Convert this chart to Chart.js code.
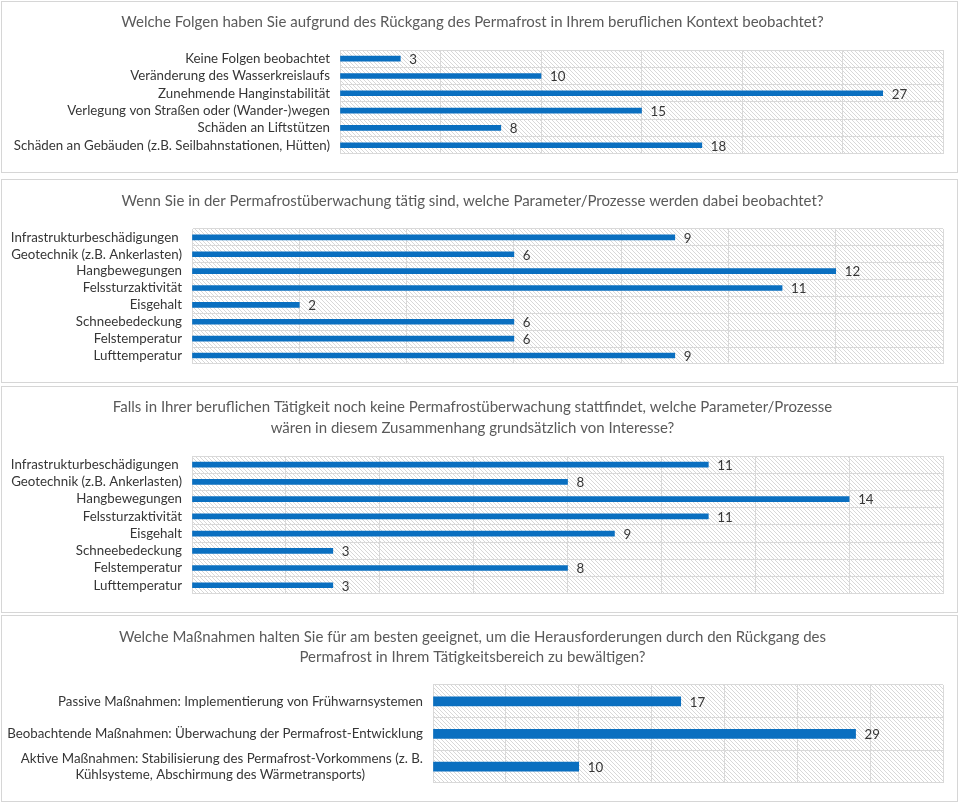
<!DOCTYPE html>
<html>
<head>
<meta charset="utf-8">
<script src="https://cdn.jsdelivr.net/npm/chart.js@4.4.1/dist/chart.umd.min.js"></script>
<style>
  body { margin: 0; background: #fff; width: 960px; height: 803px; position: relative; overflow: hidden; }
  .panel { position: absolute; left: 1px; width: 957px; box-sizing: border-box; border: 1px solid #d6d6d6; }
  .panel canvas { display: block; }
</style>
</head>
<body>
<div class="panel" style="top:1px;height:172px"><canvas id="c1"></canvas></div>
<div class="panel" style="top:179px;height:204px"><canvas id="c2"></canvas></div>
<div class="panel" style="top:386px;height:227px"><canvas id="c3"></canvas></div>
<div class="panel" style="top:615px;height:187px"><canvas id="c4"></canvas></div>
<script>
// --- data ---
const folgenTitle = 'Welche Folgen haben Sie aufgrund des Rückgang des Permafrost in Ihrem beruflichen Kontext beobachtet?'
const folgenLabels = ['Keine Folgen beobachtet', 'Veränderung des Wasserkreislaufs', 'Zunehmende Hanginstabilität',
    'Verlegung von Straßen oder (Wander-)wegen', 'Schäden an Liftstützen', 'Schäden an Gebäuden (z.B. Seilbahnstationen, Hütten)']
const folgenValues = [3, 10, 27, 15, 8, 18]

const paramLabels = ['Infrastrukturbeschädigungen ', 'Geotechnik (z.B. Ankerlasten)', 'Hangbewegungen', 'Felssturzaktivität',
    'Eisgehalt', 'Schneebedeckung', 'Felstemperatur', 'Lufttemperatur']

const ueberwachtTitle = 'Wenn Sie in der Permafrostüberwachung tätig sind, welche Parameter/Prozesse werden dabei beobachtet?'
const ueberwachtValues = [9, 6, 12, 11, 2, 6, 6, 9]

const interesseTitle = ['Falls in Ihrer beruflichen Tätigkeit noch keine Permafrostüberwachung stattfindet, welche Parameter/Prozesse',
    'wären in diesem Zusammenhang grundsätzlich von Interesse?']
const interesseValues = [11, 8, 14, 11, 9, 3, 8, 3]

const massnahmenTitle = ['Welche Maßnahmen halten Sie für am besten geeignet, um die Herausforderungen durch den Rückgang des',
    'Permafrost in Ihrem Tätigkeitsbereich zu bewältigen?']
const massnahmenLabels = ['Passive Maßnahmen: Implementierung von Frühwarnsystemen',
    'Beobachtende Maßnahmen: Überwachung der Permafrost-Entwicklung',
    ['Aktive Maßnahmen: Stabilisierung des Permafrost-Vorkommens (z. B.', 'Kühlsysteme, Abschirmung des Wärmetransports)']]
const massnahmenValues = [17, 29, 10]

const axisMax = [30, 14, 16, 35]
const axisStep = [5, 2, 2, 5]

// --- styling ---
const FONT = 'Lato'
const LABEL_SIZE = 13.3
const barColor = '#0a6fc0'
const gridColor = '#d9d9d9'
const textColor = '#363636'

function hatch() {
    const s = 4
    const c = document.createElement('canvas')
    c.width = s; c.height = s
    const g = c.getContext('2d')
    g.fillStyle = '#fff'
    g.fillRect(0, 0, s, s)
    g.strokeStyle = '#d4d4d4'
    g.lineWidth = 0.9
    for (let k = -1; k <= 1; k++) {
        g.beginPath()
        g.moveTo(k * s, 0)
        g.lineTo(k * s + s, s)
        g.stroke()
    }
    return g.createPattern(c, 'repeat')
}

// plot area background
const hatchPlugin = {
    id: 'hatchBg',
    beforeDraw(chart) {
        const a = chart.chartArea
        const ctx = chart.ctx
        ctx.save()
        ctx.fillStyle = hatch()
        ctx.fillRect(a.left, a.top, a.right - a.left, a.bottom - a.top)
        ctx.restore()
    }
}

// numbers at bar ends
const valuePlugin = {
    id: 'barValues',
    afterDatasetsDraw(chart) {
        const ctx = chart.ctx
        const meta = chart.getDatasetMeta(0)
        const vals = chart.data.datasets[0].data
        ctx.save()
        ctx.font = LABEL_SIZE + 'px ' + FONT
        ctx.fillStyle = textColor
        ctx.textAlign = 'left'
        ctx.textBaseline = 'middle'
        meta.data.forEach((bar, i) => ctx.fillText(vals[i], bar.x + 9, bar.y + 1))
        ctx.restore()
    }
}

// center the lines of a wrapped label like Excel does
function centerLines(lines, font) {
    const g = document.createElement('canvas').getContext('2d')
    g.font = font
    const w = lines.map(l => g.measureText(l).width)
    const widest = Math.max(...w)
    const sp = g.measureText(' ').width
    return lines.map((l, i) => l + ' '.repeat(Math.round((widest - w[i]) / 2 / sp)))
}

function makeChart(id, p) {
    const tickFont = {family: FONT, size: LABEL_SIZE, lineHeight: 1.22}
    new Chart(document.getElementById(id), {
        type: 'bar',
        data: {
            labels: p.labels,
            datasets: [{data: p.values, backgroundColor: barColor, barThickness: p.thick}]
        },
        options: {
            indexAxis: 'y',
            responsive: true,
            maintainAspectRatio: false,
            animation: false,
            layout: {padding: {left: 0, right: 14, top: 0, bottom: p.bottom}},
            plugins: {
                legend: {display: false},
                tooltip: {enabled: false},
                title: {
                    display: true,
                    text: p.title,
                    color: '#5a5a5a',
                    font: {family: FONT, size: 15, weight: 'normal', lineHeight: p.titleLH},
                    padding: {top: p.titleTop, bottom: p.titleBottom}
                }
            },
            scales: {
                x: {
                    min: 0, max: p.max,
                    ticks: {display: false, stepSize: p.step},
                    grid: {color: gridColor, drawTicks: false},
                    border: {color: gridColor},
                    afterFit(s) { s.height = 0 }
                },
                y: {
                    grid: {color: gridColor, drawTicks: false, offset: true},
                    border: {color: gridColor},
                    ticks: {
                        color: textColor, font: tickFont, padding: 10, autoSkip: false,
                        callback(v) {
                            const l = this.getLabelForValue(v)
                            return Array.isArray(l) ? centerLines(l, LABEL_SIZE + 'px ' + FONT) : l
                        }
                    },
                    afterFit(s) { s.width = p.axisW }
                }
            }
        },
        plugins: [hatchPlugin, valuePlugin]
    })
}

makeChart('c1', {title: folgenTitle, labels: folgenLabels, values: folgenValues, max: axisMax[0], step: axisStep[0],
    thick: 5, axisW: 338, bottom: 15, titleLH: 1.2, titleTop: 11, titleBottom: 19})
makeChart('c2', {title: ueberwachtTitle, labels: paramLabels, values: ueberwachtValues, max: axisMax[1], step: axisStep[1],
    thick: 5, axisW: 190, bottom: 18, titleLH: 1.2, titleTop: 12, titleBottom: 19})
makeChart('c3', {title: interesseTitle, labels: paramLabels, values: interesseValues, max: axisMax[2], step: axisStep[2],
    thick: 5, axisW: 190, bottom: 17, titleLH: 1.4, titleTop: 9.5, titleBottom: 17.5})
makeChart('c4', {title: massnahmenTitle, labels: massnahmenLabels, values: massnahmenValues, max: axisMax[3], step: axisStep[3],
    thick: 9, axisW: 431, bottom: 16, titleLH: 1.333, titleTop: 11, titleBottom: 18})
</script>
</body>
</html>
